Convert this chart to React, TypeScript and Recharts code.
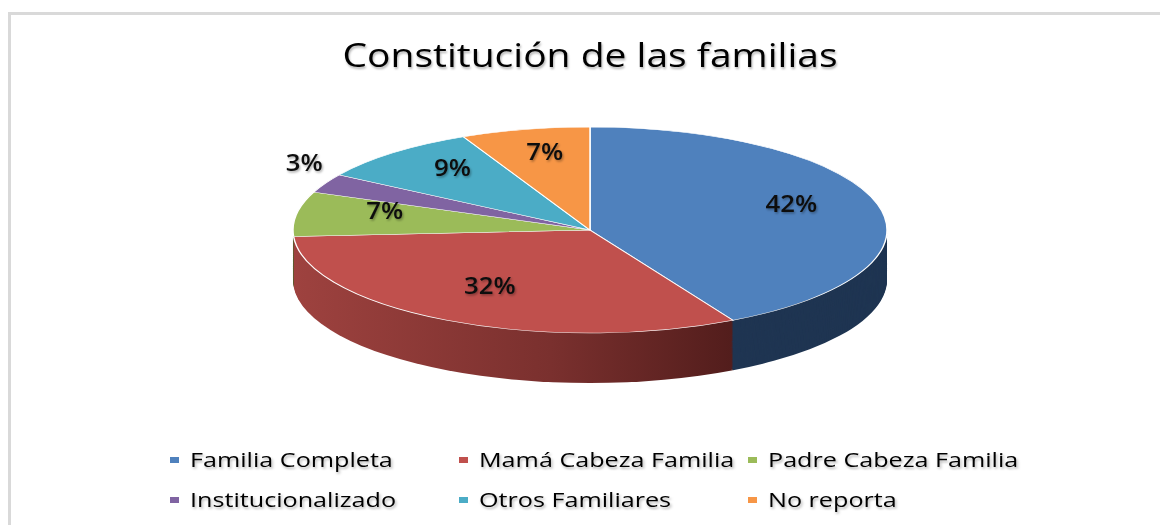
import React from 'react';
import { PieChart, Pie, Cell } from 'recharts';

const title = 'Constitución de las familias';
const categories = [
  'Familia Completa',
  'Mamá Cabeza Familia',
  'Padre Cabeza Familia',
  'Institucionalizado',
  'Otros Familiares',
  'No reporta',
];
const values = [42, 32, 7, 3, 9, 7];
const topColors = ['#4f81bd', '#c0504d', '#9bbb59', '#8064a2', '#4bacc6', '#f79646'];
const sideColors = ['#1f3552', 'url(#redSide)', '#4d6129', '#3f3151', '#245a69', '#8a4e1c'];

const data = categories.map((name, i) => ({ name, value: values[i] }));

const K = 103 / 297; // vertical squash of the pie (perspective)
const R = 297;
const CX = 590;
const CY = 300; // unsquashed
const TOP = 126;
const DEPTH = 144; // unsquashed side depth
const layers: number[] = [];
for (let o = DEPTH; o > 0; o -= 3) layers.push(o);

const FONT = "'Open Sans', 'DejaVu Sans', sans-serif";

const renderLabel = (props: any) => {
  const { cx, cy, midAngle, outerRadius, percent, index } = props;
  const rad = Math.PI / 180;
  const small = percent < 0.05;
  const f = small ? 1.08 : 0.7;
  const r = outerRadius * f;
  const x = cx + r * Math.cos(-midAngle * rad);
  const y = cy + r * Math.sin(-midAngle * rad) - (small ? 50 : 25);
  return (
    <text
      key={`lbl-${index}`}
      transform={`translate(${x},${y}) scale(1.12,${1 / K})`}
      x={0}
      y={0}
      textAnchor="middle"
      dominantBaseline="central"
      fontFamily={FONT}
      fontSize={23}
      fontWeight={600}
      fill="#111"
      filter="url(#tshadow)"
    >
      {`${Math.round(percent * 100)}%`}
    </text>
  );
};

export default function App() {
  return (
    <div style={{ position: 'absolute', left: 0, top: 0, width: 1160, height: 525, overflow: 'hidden', background: '#fff' }}>
      <div
        style={{
          position: 'absolute',
          left: 8,
          top: 12,
          width: 1200,
          height: 600,
          borderTop: '3px solid #d9d9d9',
          borderLeft: '3px solid #d9d9d9',
          boxSizing: 'border-box',
        }}
      />
      <div
        style={{
          position: 'absolute',
          left: 0,
          top: TOP,
          width: 1160,
          height: 800,
          transform: `scaleY(${K})`,
          transformOrigin: '0 0',
        }}
      >
        <PieChart width={1160} height={800} margin={{ top: 0, right: 0, bottom: 0, left: 0 }}>
          <defs>
            <linearGradient id="redSide" gradientUnits="userSpaceOnUse" x1={293} y1={0} x2={762} y2={0}>
              <stop offset="0%" stopColor="#9e423f" />
              <stop offset="55%" stopColor="#7a302e" />
              <stop offset="100%" stopColor="#4c1a19" />
            </linearGradient>
            <filter id="tshadow" x="-20%" y="-20%" width="140%" height="150%">
              <feDropShadow dx="1" dy="1.5" stdDeviation="1" floodColor="#000" floodOpacity="0.35" />
            </filter>
          </defs>
          {layers.map((o) => (
            <Pie
              key={`side-${o}`}
              data={data}
              dataKey="value"
              nameKey="name"
              cx={CX}
              cy={CY + o}
              outerRadius={R}
              startAngle={90}
              endAngle={-270}
              stroke="none"
              label={false}
              labelLine={false}
              isAnimationActive={false}
            >
              {data.map((d, i) => (
                <Cell key={`s-${o}-${i}`} fill={sideColors[i]} />
              ))}
            </Pie>
          ))}
          <Pie
            data={data}
            dataKey="value"
            nameKey="name"
            cx={CX}
            cy={CY}
            outerRadius={R}
            startAngle={90}
            endAngle={-270}
            stroke="#ffffff"
            strokeWidth={1.5}
            label={renderLabel}
            labelLine={false}
            isAnimationActive={false}
          >
            {data.map((d, i) => (
              <Cell key={`t-${i}`} fill={topColors[i]} />
            ))}
          </Pie>
        </PieChart>
      </div>
      <svg width={1160} height={525} style={{ position: 'absolute', left: 0, top: 0, pointerEvents: 'none' }}>
        <defs>
          <filter id="tshadow2" x="-10%" y="-30%" width="120%" height="170%">
            <feDropShadow dx="1" dy="2" stdDeviation="1.2" floodColor="#000" floodOpacity="0.3" />
          </filter>
        </defs>
        <text
          x={590}
          y={67}
          textAnchor="middle"
          fontFamily={FONT}
          fontSize={33}
          fill="#000"
          textLength={495}
          lengthAdjust="spacingAndGlyphs"
          filter="url(#tshadow2)"
        >
          {title}
        </text>
        {categories.map((name, i) => {
          const col = i % 3;
          const row = Math.floor(i / 3);
          const sx = [170, 459, 748][col];
          const cy = [460, 500][row];
          return (
            <g key={`leg-${i}`}>
              <rect x={sx} y={cy - 3} width={9} height={6} fill={topColors[i]} />
              <text
                transform={`translate(${sx + 20},${cy + 7}) scale(1.29,1)`}
                x={0}
                y={0}
                fontFamily={FONT}
                fontSize={19.5}
                fill="#000"
                filter="url(#tshadow2)"
              >
                {name}
              </text>
            </g>
          );
        })}
      </svg>
    </div>
  );
}
